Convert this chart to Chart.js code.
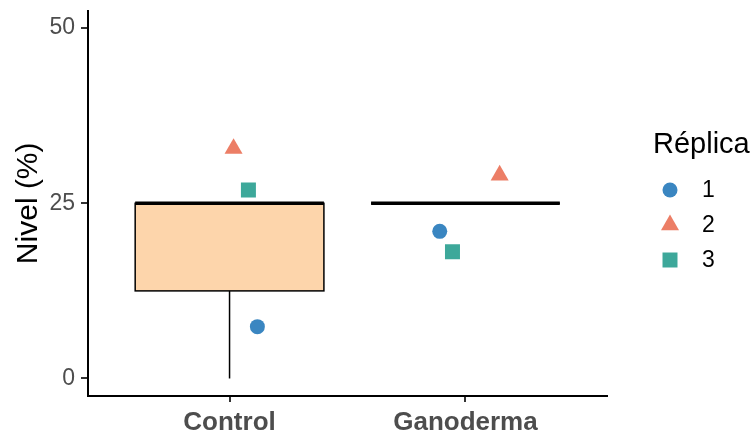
<!DOCTYPE html>
<html>
<head>
<meta charset="utf-8">
<script src="https://cdn.jsdelivr.net/npm/chart.js@4.4.1/dist/chart.umd.min.js"></script>
<style>
  html, body { margin: 0; padding: 0; background: #fff; }
  #wrap { width: 753px; height: 434px; }
</style>
</head>
<body>
<div id="wrap"><canvas id="grafico" width="753" height="434"></canvas></div>
<script>
// categorias y resumen de cajas
const categorias = ['Control', 'Ganoderma'];
const bigoteInf = [0, 25];
const q1 = [12.5, 25];
const mediana = [25, 25];
const q3 = [25, 25];
const bigoteSup = [25, 25];
const anchoCaja = 0.8;

// puntos por réplica (x = posición con jitter, y = nivel)
const replica1 = [{ x: 1.118, y: 7.4 }, { x: 1.891, y: 21.0 }];
const replica2 = [{ x: 1.017, y: 32.8 }, { x: 2.145, y: 29.0 }];
const replica3 = [{ x: 1.080, y: 26.9 }, { x: 1.945, y: 18.1 }];

const yTicks = [0, 25, 50];
const replicas = ['1', '2', '3'];

const fuente = "'Liberation Sans', Arial, sans-serif";
const colores = ['#3A86C1', '#EC7E66', '#3DA89A'];
const formas = ['circle', 'triangle', 'rect'];
const radios = [7.5, 10.4, 10.6];

// dibuja las cajas usando las escalas del gráfico
const cajasPlugin = {
  id: 'cajas',
  beforeDatasetsDraw(chart) {
    const { ctx, scales: { x, y } } = chart;
    ctx.save();
    categorias.forEach((c, i) => {
      const xc = x.getPixelForValue(i + 1);
      const xl = x.getPixelForValue(i + 1 - anchoCaja / 2);
      const xr = x.getPixelForValue(i + 1 + anchoCaja / 2);
      const yq1 = y.getPixelForValue(q1[i]);
      const yq3 = y.getPixelForValue(q3[i]);
      ctx.strokeStyle = '#000';
      ctx.lineWidth = 1.5;
      // bigotes
      ctx.beginPath();
      ctx.moveTo(xc, yq1);
      ctx.lineTo(xc, y.getPixelForValue(bigoteInf[i]));
      ctx.moveTo(xc, yq3);
      ctx.lineTo(xc, y.getPixelForValue(bigoteSup[i]));
      ctx.stroke();
      // caja
      ctx.fillStyle = '#FDD5AB';
      ctx.fillRect(xl, yq3, xr - xl, yq1 - yq3);
      ctx.strokeRect(xl, yq3, xr - xl, yq1 - yq3);
      // mediana
      ctx.lineWidth = 3.5;
      ctx.beginPath();
      ctx.moveTo(xl, y.getPixelForValue(mediana[i]));
      ctx.lineTo(xr, y.getPixelForValue(mediana[i]));
      ctx.stroke();
    });
    ctx.restore();
  }
};

// leyenda a la derecha
const leyendaPlugin = {
  id: 'leyenda',
  afterDraw(chart) {
    const ctx = chart.ctx;
    ctx.save();
    ctx.fillStyle = '#000';
    ctx.textBaseline = 'alphabetic';
    ctx.textAlign = 'left';
    ctx.font = `29px ${fuente}`;
    ctx.fillText('Réplica', 653, 153);
    ctx.font = `23px ${fuente}`;
    ctx.textBaseline = 'middle';
    const ys = [190, 225, 260];
    replicas.forEach((r, i) => {
      ctx.fillStyle = colores[i];
      Chart.helpers.drawPoint(ctx, {
        pointStyle: formas[i], radius: radios[i], rotation: 0, borderWidth: 0
      }, 670, ys[i]);
      ctx.fillStyle = '#000';
      ctx.fillText(r, 702, ys[i] + 1);
    });
    ctx.restore();
  }
};

function serie(label, data, i) {
  return {
    label,
    data,
    pointStyle: formas[i],
    pointRadius: radios[i],
    pointHoverRadius: radios[i],
    backgroundColor: colores[i],
    borderWidth: 0
  };
}

new Chart(document.getElementById('grafico'), {
  type: 'scatter',
  data: {
    datasets: [
      serie('1', replica1, 0),
      serie('2', replica2, 1),
      serie('3', replica3, 2)
    ]
  },
  options: {
    responsive: false,
    animation: false,
    layout: { padding: { top: 8, right: 146, left: 0, bottom: 0 } },
    plugins: { legend: { display: false }, tooltip: { enabled: false } },
    scales: {
      x: {
        type: 'linear',
        min: 0.4,
        max: 2.6,
        afterBuildTicks: s => { s.ticks = categorias.map((c, i) => ({ value: i + 1 })); },
        afterFit: s => { s.height = 38; s.paddingLeft = 0; s.paddingRight = 0; },
        ticks: {
          callback: v => categorias[v - 1],
          color: '#4D4D4D',
          font: { family: fuente, size: 26, weight: 'bold' },
          padding: 5,
          maxRotation: 0
        },
        grid: { drawOnChartArea: false, drawTicks: true, tickLength: 6, tickColor: '#333', lineWidth: 2 },
        border: { display: true, color: '#000', width: 2 }
      },
      y: {
        min: -2.5,
        max: 52.5,
        afterBuildTicks: s => { s.ticks = yTicks.map(v => ({ value: v })); },
        afterFit: s => { s.width = 88; s.paddingTop = 0; s.paddingBottom = 0; },
        ticks: {
          color: '#4D4D4D',
          font: { family: fuente, size: 23 },
          padding: 6
        },
        grid: { drawOnChartArea: false, drawTicks: true, tickLength: 7, tickColor: '#333', lineWidth: 2 },
        border: { display: true, color: '#000', width: 2 },
        title: {
          display: true,
          text: 'Nivel (%)',
          color: '#000',
          font: { family: fuente, size: 30 },
          padding: { top: 11, bottom: 0 }
        }
      }
    }
  },
  plugins: [cajasPlugin, leyendaPlugin]
});
</script>
</body>
</html>
